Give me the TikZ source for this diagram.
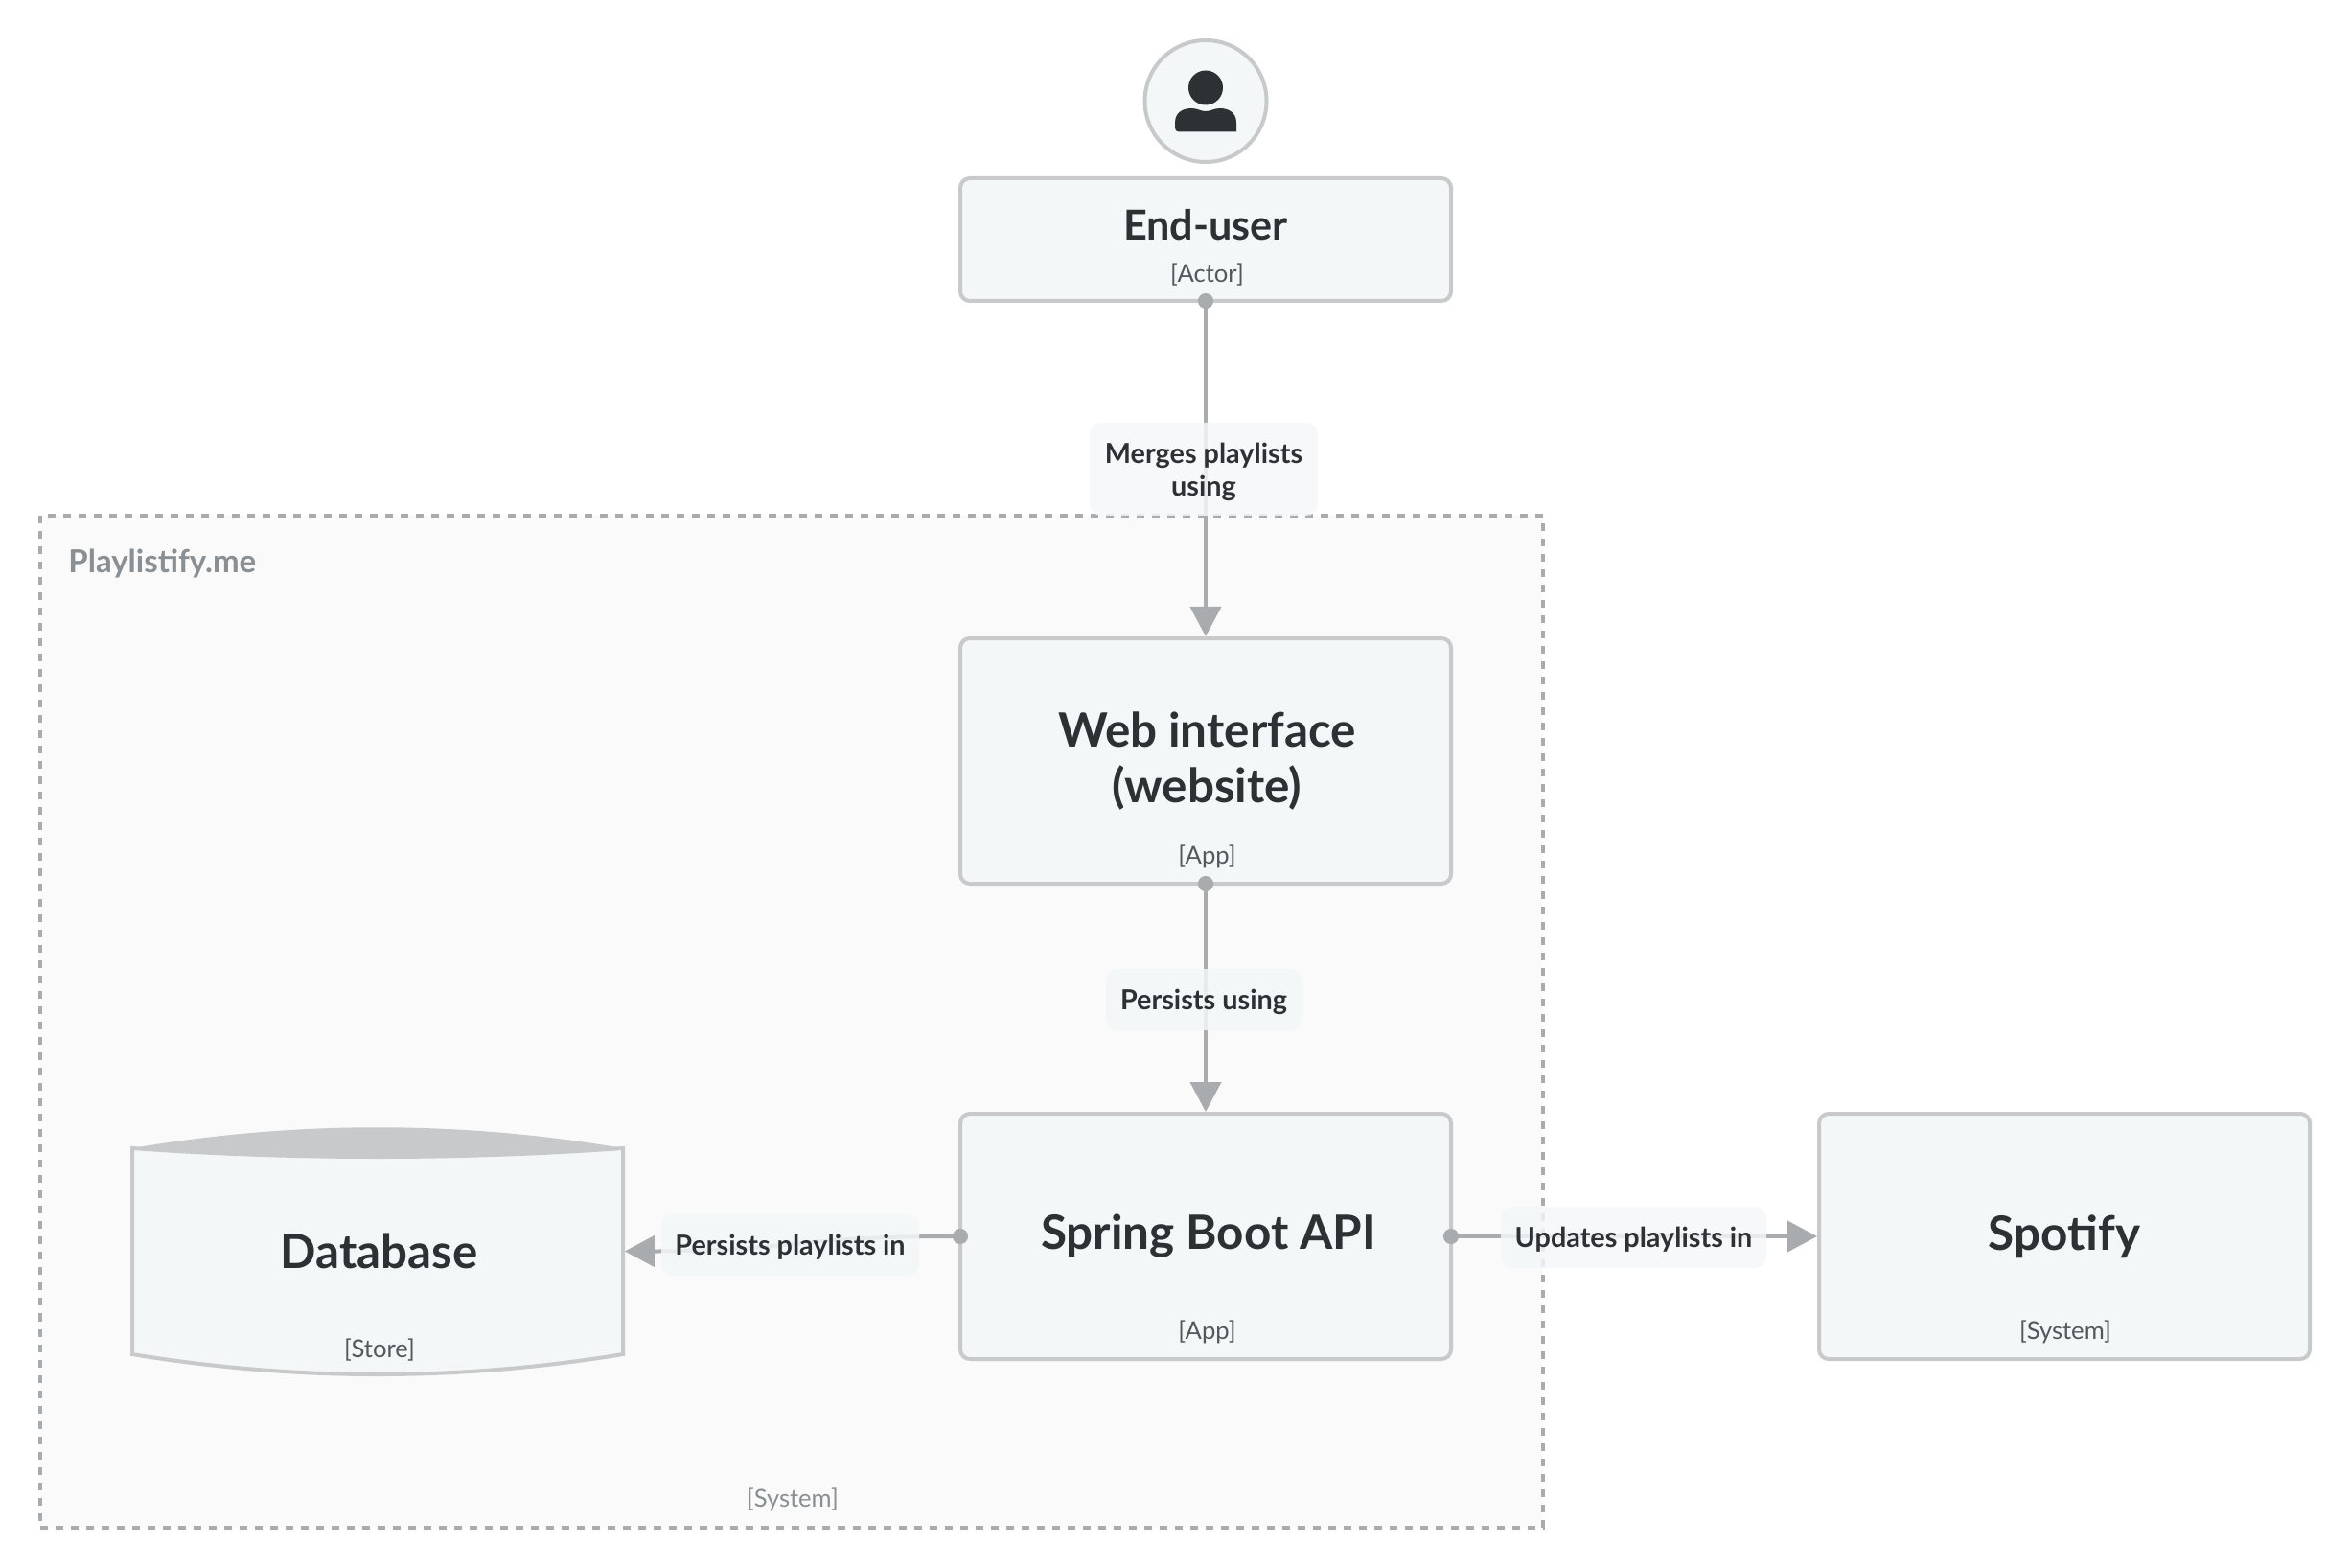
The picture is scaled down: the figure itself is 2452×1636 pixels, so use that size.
\documentclass[tikz,border=0pt]{standalone}
\usepackage{fontspec}
\setmainfont{Lato}
\usetikzlibrary{arrows.meta,positioning}
\definecolor{ink}{HTML}{2E3134}
\definecolor{tagink}{HTML}{53585C}
\definecolor{sysink}{HTML}{8A8F93}
\definecolor{edge}{HTML}{A9ACAF}
\definecolor{border}{HTML}{C8C9CB}
\definecolor{panel}{HTML}{F4F7F8}
\definecolor{sysfill}{HTML}{FAFAFA}
\tikzset{
  appbox/.style={rectangle, draw=border, fill=panel, line width=2pt, rounded corners=5pt, minimum width=256pt, minimum height=128pt, align=center, text=ink, font=\fontsize{24.7}{29}\selectfont\bfseries},
  tagtext/.style={text=tagink, font=\fontsize{12.8}{15}\selectfont, inner sep=0pt},
  flow/.style={edge, line width=2pt, {Circle[length=8pt]}-{Triangle[length=15.5pt,width=16pt]}, shorten <=-5pt},
  flowlabel/.style={rectangle, fill=panel, fill opacity=.85, text opacity=1, rounded corners=6pt, align=center, text=ink, font=\fontsize{14.4}{17}\selectfont\bfseries, inner sep=0pt, text depth=0pt}
}
\begin{document}
\begin{tikzpicture}[x=0.5pt, y=-0.5pt, node distance=1cm]
  \useasboundingbox (0,0) rectangle (2452,1636);
  % System boundary
  \node[rectangle, draw=edge, fill=sysfill, line width=2pt, dash pattern=on 4pt off 4pt, minimum width=784pt, minimum height=527.75pt] (playlistify) at (826,1065.75) {};
  \node[anchor=west, inner sep=0pt, text=sysink, font=\fontsize{16.5}{19}\selectfont\bfseries] (playlistifyname) at (71,587.5) {Playlistify.me};
  \node[tagtext, text=sysink] (playlistifytag) at (827,1565) {[System]};

  % Actor
  \node[circle, draw=border, fill=panel, line width=2pt, minimum size=63.5pt, inner sep=0pt] (avatar) at (1258,105.5) {};
  \fill[ink] (1258,91.5) circle (18);
  \fill[ink] (1226,137.5) -- (1226,128) .. controls (1226,116) and (1236,113) .. (1243,113) .. controls (1250,113) and (1252,116) .. (1258,116) .. controls (1264,116) and (1266,113) .. (1273,113) .. controls (1280,113) and (1290,116) .. (1290,128) -- (1290,137.5) [rounded corners=2pt] -- cycle;
  \node[appbox, minimum height=64pt] (enduser) at (1258,250) {};
  \node[text=ink, inner sep=0pt, font=\fontsize{21.6}{26}\selectfont\bfseries] (endusername) at (1258,235) {End-user};
  \node[tagtext, above=14.75pt of enduser.south, anchor=center, xshift=.75pt] (endusertag) {[Actor]};

  % Containers
  \node[appbox, below of=enduser, node distance=272pt] (web) {\hspace*{1.5pt}Web interface\\\hspace*{1.5pt}(website)};
  \node[tagtext, above=15pt of web.south, anchor=center, xshift=.75pt] (webtag) {[App]};
  \node[appbox, below of=web, node distance=248pt] (api) {\hspace*{3pt}Spring Boot API};
  \node[tagtext, above=15pt of api.south, anchor=center, xshift=.75pt] (apitag) {[App]};
  \node[appbox, right of=api, node distance=448pt] (spotify) {Spotify};
  \node[tagtext, above=15pt of spotify.south, anchor=center, xshift=.5pt] (spotifytag) {[System]};

  % Store
  \fill[panel, draw=border, line width=2pt] (138,1198) .. controls (308,1210) and (480,1210) .. (650,1198) -- (650,1413) .. controls (480,1441) and (308,1441) .. (138,1413) -- cycle;
  \fill[border] (138,1198) .. controls (308,1169) and (480,1169) .. (650,1198) .. controls (480,1210) and (308,1210) .. (138,1198) -- cycle;
  \node[minimum width=256pt, minimum height=107.5pt, inner sep=0pt, text=ink, font=\fontsize{24.6}{29}\selectfont\bfseries] (database) at (395.5,1305.5) {Database};
  \node[tagtext] (databasetag) at (396,1409) {[Store]};

  % Connectors
  \draw[flow] (enduser.south) -- (web.north);
  \draw[flow] (web.south) -- (api.north);
  \draw[flow] (api.west) to[out=180, in=0, looseness=1.3] (database.east);
  \draw[flow] (api.east) -- (spotify.west);

  % Connector labels
  \node[flowlabel, minimum width=119pt, minimum height=48.5pt] (mergeslabel) at (1256,489.5) {Merges playlists\\using};
  \node[flowlabel, minimum width=102pt, minimum height=32pt] (persistslabel) at (1256,1043) {Persists using};
  \node[flowlabel, minimum width=134.5pt, minimum height=32pt] (storelabel) at (824.5,1299) {Persists playlists in};
  \node[flowlabel, minimum width=138.5pt, minimum height=32pt] (updateslabel) at (1704.5,1291) {Updates playlists in};
\end{tikzpicture}
\end{document}
